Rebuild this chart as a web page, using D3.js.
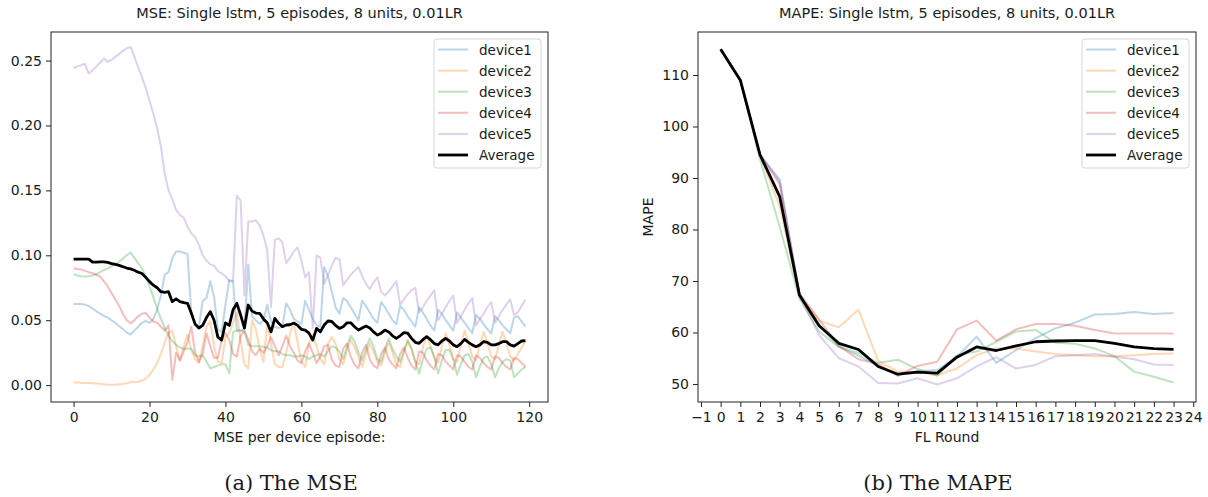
<!DOCTYPE html>
<html>
<head>
<meta charset="utf-8">
<script src="https://cdn.jsdelivr.net/npm/d3@7"></script>
<style>
  body { margin: 0; background: #fff; }
  svg text { font-family: "DejaVu Sans", sans-serif; fill: #1a1a1a; }
  .caption { font-family: "DejaVu Serif", serif; }
</style>
</head>
<body>
<svg id="chart" width="1208" height="497"></svg>
<script>
// ---- data: MSE per device episode (120 episodes) ----
const mseDevice1 = [0.0625,0.0625,0.0625,0.062,0.0608,0.059,0.057,0.055,0.0533,0.052,
  0.050,0.0478,0.0455,0.043,0.0405,0.039,0.042,0.045,0.048,0.0495,
  0.048,0.051,0.058,0.069,0.085,0.087,0.098,0.103,0.103,0.102,
  0.101,0.056,0.047,0.045,0.065,0.067,0.080,0.068,0.043,0.041,
  0.062,0.081,0.080,0.042,0.042,0.043,0.093,0.053,0.050,0.047,
  0.050,0.062,0.049,0.045,0.044,0.045,0.063,0.058,0.051,0.049,
  0.047,0.065,0.058,0.051,0.046,0.045,0.091,0.084,0.072,0.060,
  0.055,0.067,0.065,0.060,0.055,0.050,0.065,0.061,0.056,0.051,
  0.048,0.064,0.060,0.055,0.050,0.047,0.061,0.058,0.053,0.049,
  0.045,0.060,0.056,0.051,0.046,0.042,0.058,0.055,0.050,0.046,
  0.042,0.056,0.052,0.048,0.044,0.040,0.054,0.051,0.047,0.043,
  0.040,0.053,0.050,0.046,0.043,0.040,0.052,0.053,0.049,0.045];
const mseDevice2 = [0.002,0.002,0.0018,0.0017,0.0016,0.0014,0.0012,0.001,0.0006,0.0004,
  0.0003,0.0004,0.0006,0.001,0.0015,0.0022,0.0024,0.0026,0.0035,0.005,
  0.008,0.012,0.017,0.024,0.033,0.040,0.042,0.030,0.019,0.030,
  0.039,0.027,0.020,0.017,0.030,0.045,0.049,0.030,0.018,0.017,
  0.037,0.040,0.048,0.056,0.034,0.016,0.013,0.050,0.043,0.028,
  0.018,0.047,0.032,0.016,0.014,0.014,0.025,0.040,0.047,0.033,
  0.018,0.014,0.032,0.039,0.030,0.020,0.016,0.032,0.037,0.032,
  0.020,0.016,0.027,0.035,0.029,0.022,0.014,0.024,0.032,0.026,
  0.018,0.015,0.025,0.033,0.025,0.016,0.014,0.026,0.035,0.028,
  0.018,0.016,0.029,0.038,0.030,0.021,0.017,0.030,0.040,0.031,
  0.020,0.018,0.031,0.042,0.032,0.022,0.019,0.031,0.041,0.032,
  0.022,0.020,0.031,0.041,0.032,0.022,0.019,0.024,0.029,0.034];
const mseDevice3 = [0.0856,0.0845,0.0838,0.0836,0.0838,0.0845,0.0855,0.087,0.0885,0.090,
  0.0915,0.093,0.095,0.0975,0.100,0.1022,0.098,0.094,0.090,0.084,
  0.076,0.068,0.059,0.051,0.044,0.038,0.034,0.031,0.029,0.028,
  0.028,0.028,0.023,0.022,0.023,0.018,0.013,0.014,0.015,0.016,
  0.016,0.009,0.041,0.042,0.042,0.041,0.031,0.030,0.030,0.030,
  0.0296,0.029,0.027,0.026,0.026,0.024,0.023,0.023,0.022,0.022,
  0.023,0.022,0.020,0.022,0.023,0.024,0.022,0.026,0.030,0.029,
  0.026,0.020,0.030,0.038,0.034,0.025,0.019,0.028,0.036,0.030,
  0.020,0.018,0.028,0.036,0.028,0.022,0.018,0.026,0.034,0.028,
  0.018,0.009,0.020,0.028,0.029,0.022,0.009,0.019,0.027,0.027,
  0.020,0.008,0.016,0.023,0.024,0.018,0.006,0.014,0.021,0.022,
  0.016,0.006,0.013,0.018,0.020,0.019,0.006,0.009,0.012,0.014];
const mseDevice4 = [0.090,0.0895,0.089,0.088,0.087,0.0862,0.085,0.0835,0.080,0.076,
  0.071,0.066,0.061,0.055,0.050,0.0476,0.050,0.053,0.055,0.0556,
  0.052,0.049,0.048,0.045,0.042,0.046,0.004,0.025,0.019,0.026,
  0.033,0.045,0.025,0.018,0.024,0.040,0.030,0.021,0.021,0.035,
  0.040,0.035,0.024,0.022,0.038,0.042,0.035,0.026,0.023,0.028,
  0.025,0.030,0.037,0.030,0.023,0.030,0.038,0.030,0.025,0.019,
  0.017,0.026,0.032,0.025,0.017,0.022,0.030,0.031,0.020,0.015,
  0.014,0.028,0.032,0.022,0.016,0.013,0.025,0.031,0.020,0.015,
  0.013,0.024,0.029,0.020,0.016,0.013,0.024,0.029,0.021,0.015,
  0.012,0.026,0.025,0.019,0.015,0.012,0.024,0.023,0.018,0.015,
  0.012,0.023,0.022,0.018,0.014,0.012,0.023,0.021,0.017,0.014,
  0.012,0.022,0.021,0.017,0.014,0.012,0.021,0.020,0.017,0.014];
const mseDevice5 = [0.244,0.2455,0.2465,0.2475,0.240,0.2425,0.2455,0.2485,0.2515,0.249,
  0.2505,0.253,0.255,0.2575,0.2595,0.2605,0.253,0.245,0.237,0.229,
  0.219,0.209,0.198,0.184,0.163,0.150,0.143,0.135,0.131,0.129,
  0.122,0.117,0.114,0.108,0.100,0.096,0.093,0.092,0.088,0.086,
  0.084,0.080,0.080,0.146,0.142,0.069,0.126,0.126,0.127,0.123,
  0.115,0.104,0.060,0.112,0.113,0.110,0.094,0.098,0.103,0.106,
  0.096,0.083,0.087,0.044,0.100,0.098,0.078,0.085,0.092,0.098,
  0.097,0.077,0.081,0.085,0.088,0.091,0.084,0.078,0.074,0.079,
  0.083,0.072,0.069,0.072,0.076,0.080,0.062,0.066,0.070,0.073,
  0.075,0.056,0.060,0.065,0.069,0.073,0.050,0.055,0.060,0.065,
  0.069,0.048,0.053,0.058,0.063,0.067,0.046,0.051,0.055,0.060,
  0.064,0.048,0.053,0.058,0.062,0.066,0.054,0.056,0.061,0.066];
const mseAverage = [0.097,0.097,0.097,0.097,0.097,0.0948,0.0948,0.095,0.095,0.0945,
  0.0935,0.093,0.0922,0.0912,0.0902,0.0895,0.0885,0.087,0.086,0.083,
  0.0797,0.077,0.075,0.072,0.0715,0.072,0.0643,0.0664,0.0643,0.0635,
  0.063,0.0555,0.047,0.044,0.046,0.052,0.0566,0.050,0.037,0.0347,
  0.048,0.046,0.058,0.063,0.054,0.044,0.0617,0.057,0.0555,0.0553,
  0.051,0.048,0.041,0.0514,0.0476,0.045,0.0463,0.0465,0.0478,0.046,
  0.043,0.0424,0.040,0.0347,0.0437,0.041,0.0463,0.0494,0.049,0.046,
  0.0437,0.045,0.048,0.048,0.045,0.0424,0.044,0.0455,0.044,0.041,
  0.0386,0.040,0.0424,0.041,0.038,0.036,0.038,0.0404,0.040,0.036,
  0.033,0.0322,0.035,0.0373,0.035,0.032,0.031,0.034,0.036,0.034,
  0.031,0.0296,0.032,0.0352,0.033,0.031,0.0296,0.031,0.0335,0.033,
  0.031,0.031,0.032,0.0335,0.0335,0.031,0.030,0.032,0.034,0.0342];
const episodes = d3.range(mseAverage.length);

// ---- data: MAPE per FL round (24 rounds) ----
const mapeDevice1 = [115,109,94.5,89.7,67.5,61.5,57.3,55.5,53.5,51.7,52.5,52.7,55.3,59.2,54.1,56.6,58.9,60.8,61.9,63.5,63.6,64.0,63.6,63.8];
const mapeDevice2 = [115,109,94.3,84.5,67.3,62.3,61.0,64.4,54.5,52.4,52.3,51.7,53.0,55.6,56.9,56.9,56.3,55.8,55.6,55.4,55.4,55.6,55.8,55.9];
const mapeDevice3 = [115,109,93.6,80.5,66.6,60.2,57.2,56.0,54.1,54.7,52.9,51.6,55.6,56.3,58.2,60.2,60.5,58.0,57.8,56.9,55.4,52.4,51.4,50.3];
const mapeDevice4 = [115,109,94.6,88.8,67.6,62.5,57.4,54.8,53.9,51.6,53.5,54.3,60.6,62.3,58.4,60.6,61.65,61.65,61.3,60.5,59.8,59.8,59.8,59.8];
const mapeDevice5 = [115,109,94.5,89.3,67.2,59.5,55.0,53.4,50.2,50.1,51.1,49.9,51.1,53.4,55.2,53.0,53.7,55.4,55.6,55.8,55.3,54.8,53.8,53.7];
const mapeAverage = [115,109,94.5,86.4,67.3,61.3,57.9,56.7,53.4,51.9,52.3,52.1,55.2,57.2,56.5,57.4,58.2,58.35,58.4,58.4,57.9,57.2,56.85,56.7];
const rounds = d3.range(mapeAverage.length);

const deviceNames = ['device1', 'device2', 'device3', 'device4', 'device5'];
const deviceColors = ['#1f77b4', '#ff7f0e', '#2ca02c', '#d62728', '#9467bd'];

const svg = d3.select('#chart');

function drawPanel(cfg) {
  const g = svg.append('g');
  const x = d3.scaleLinear().domain(cfg.xDomain).range([cfg.left, cfg.right]);
  const y = d3.scaleLinear().domain(cfg.yDomain).range([cfg.bottom, cfg.top]);

  // x axis
  const xAxis = g.append('g')
    .attr('transform', `translate(0,${cfg.bottom})`)
    .call(d3.axisBottom(x).tickValues(cfg.xTicks).tickFormat(cfg.xFormat).tickSize(5).tickPadding(5));
  // y axis
  const yAxis = g.append('g')
    .attr('transform', `translate(${cfg.left},0)`)
    .call(d3.axisLeft(y).tickValues(cfg.yTicks).tickFormat(cfg.yFormat).tickSize(5).tickPadding(4));
  [xAxis, yAxis].forEach(a => {
    a.select('.domain').remove();
    a.selectAll('.tick line').attr('stroke', '#222').attr('stroke-width', 1);
    a.selectAll('.tick text').style('font-size', '14px').attr('fill', '#1a1a1a')
      .style('font-family', '"DejaVu Sans", sans-serif');
  });

  // lines
  const line = d3.line().x((d, i) => x(cfg.xs[i])).y(d => y(d));
  const plot = g.append('g');
  cfg.series.forEach((s, i) => {
    plot.append('path')
      .datum(s)
      .attr('d', line)
      .attr('fill', 'none')
      .attr('stroke', deviceColors[i])
      .attr('stroke-opacity', 0.3)
      .attr('stroke-width', 2)
      .attr('stroke-linejoin', 'round');
  });
  plot.append('path')
    .datum(cfg.average)
    .attr('d', line)
    .attr('fill', 'none')
    .attr('stroke', '#000')
    .attr('stroke-width', 2.8)
    .attr('stroke-linejoin', 'round');

  // frame
  g.append('rect')
    .attr('x', cfg.left).attr('y', cfg.top)
    .attr('width', cfg.right - cfg.left).attr('height', cfg.bottom - cfg.top)
    .attr('fill', 'none').attr('stroke', '#222').attr('stroke-width', 1);

  // title and labels
  g.append('text')
    .attr('x', (cfg.left + cfg.right) / 2).attr('y', 18)
    .attr('text-anchor', 'middle').style('font-size', '14.5px')
    .text(cfg.title);
  g.append('text')
    .attr('x', (cfg.left + cfg.right) / 2).attr('y', 442)
    .attr('text-anchor', 'middle').style('font-size', '14px')
    .text(cfg.xLabel);
  if (cfg.yLabel) {
    g.append('text')
      .attr('transform', `translate(${cfg.left - 45},${(cfg.top + cfg.bottom) / 2}) rotate(-90)`)
      .attr('text-anchor', 'middle').style('font-size', '14px')
      .text(cfg.yLabel);
  }

  // legend
  const lg = g.append('g').attr('transform', `translate(${cfg.legendX},39)`);
  lg.append('rect')
    .attr('width', 107).attr('height', 129).attr('rx', 3)
    .attr('fill', '#fff').attr('fill-opacity', 0.8)
    .attr('stroke', '#d6d6d6').attr('stroke-width', 1);
  const labels = deviceNames.concat(['Average']);
  labels.forEach((name, i) => {
    const yy = 10.5 + i * 21.1;
    lg.append('line')
      .attr('x1', 4).attr('x2', 34).attr('y1', yy).attr('y2', yy)
      .attr('stroke', i < 5 ? deviceColors[i] : '#000')
      .attr('stroke-opacity', i < 5 ? 0.3 : 1)
      .attr('stroke-width', i < 5 ? 2 : 2.8);
    lg.append('text')
      .attr('x', 45).attr('y', yy + 5)
      .style('font-size', '13.5px')
      .text(name);
  });
}

drawPanel({
  left: 51, right: 548, top: 32, bottom: 402,
  xDomain: [-5.95, 124.95], yDomain: [-0.013, 0.272],
  xs: episodes,
  xTicks: [0, 20, 40, 60, 80, 100, 120], xFormat: d3.format('d'),
  yTicks: [0, 0.05, 0.10, 0.15, 0.20, 0.25], yFormat: d3.format('.2f'),
  title: 'MSE: Single lstm, 5 episodes, 8 units, 0.01LR',
  xLabel: 'MSE per device episode:',
  series: [mseDevice1, mseDevice2, mseDevice3, mseDevice4, mseDevice5],
  average: mseAverage,
  legendX: 434
});

drawPanel({
  left: 698, right: 1196, top: 32, bottom: 402,
  xDomain: [-1.15, 24.14], yDomain: [46.5, 118.35],
  xs: rounds,
  xTicks: d3.range(-1, 25), xFormat: d3.format('d'),
  yTicks: [50, 60, 70, 80, 90, 100, 110], yFormat: d3.format('d'),
  title: 'MAPE: Single lstm, 5 episodes, 8 units, 0.01LR',
  xLabel: 'FL Round',
  yLabel: 'MAPE',
  series: [mapeDevice1, mapeDevice2, mapeDevice3, mapeDevice4, mapeDevice5],
  average: mapeAverage,
  legendX: 1082
});

// captions
svg.append('text').attr('class', 'caption')
  .attr('x', 291).attr('y', 490).attr('text-anchor', 'middle')
  .style('font-size', '21px').text('(a) The MSE');
svg.append('text').attr('class', 'caption')
  .attr('x', 938).attr('y', 490).attr('text-anchor', 'middle')
  .style('font-size', '21px').text('(b) The MAPE');
</script>
</body>
</html>
